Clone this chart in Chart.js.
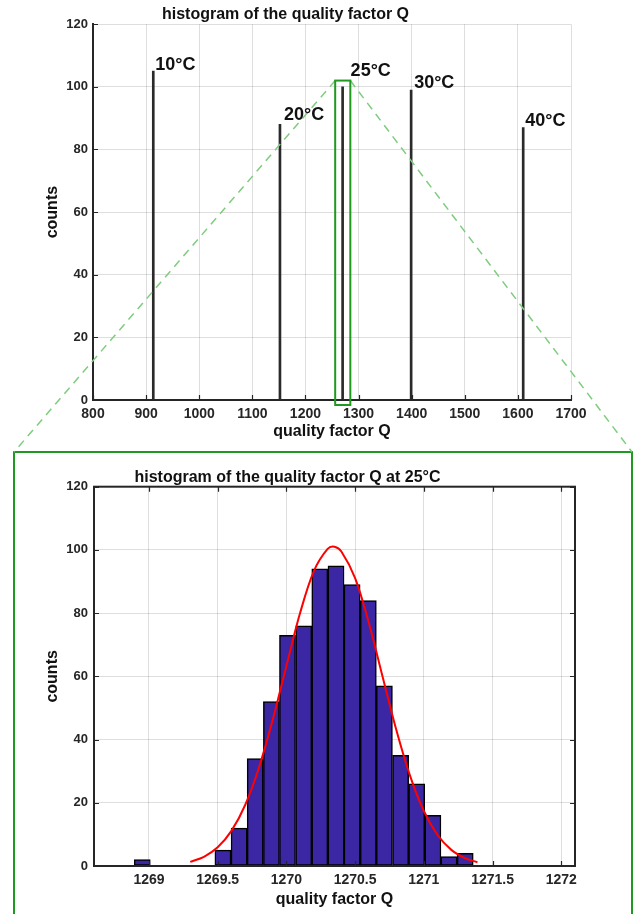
<!DOCTYPE html>
<html>
<head>
<meta charset="utf-8">
<script src="https://cdn.jsdelivr.net/npm/chart.js@4.4.0/dist/chart.umd.min.js"></script>
<style>
  html, body { margin: 0; padding: 0; background: #fff; }
  #page { position: relative; width: 633px; height: 914px; overflow: hidden; }
  #zoomFrame { position: absolute; left: 13px; top: 451px; width: 616px; height: 480px; border: 2px solid #1f991f; }
  #overview { position: absolute; left: 0; top: 0; }
  #detail { position: absolute; left: 0; top: 453px; }
</style>
</head>
<body>
<div id="page">
  <div id="zoomFrame"></div>
  <canvas id="overview" width="633" height="454"></canvas>
  <canvas id="detail" width="633" height="461"></canvas>
</div>
<script>
// overview: one narrow histogram per temperature
const tempLabels = ['10°C', '20°C', '25°C', '30°C', '40°C'];
const tempQ = [913.5, 1152, 1270, 1399, 1610];
const tempCounts = [105, 88, 100, 99, 87];
const overviewTicks = [800, 900, 1000, 1100, 1200, 1300, 1400, 1500, 1600, 1700];

// Q range / counts range zoomed in below (25°C)
const zoomQ = [1256, 1284.5];
const zoomCounts = [-1.6, 102];

// 25°C histogram, bin centres and counts
const binQ = [1268.951, 1269.068, 1269.186, 1269.303, 1269.421, 1269.538, 1269.656, 1269.773,
              1269.891, 1270.008, 1270.126, 1270.243, 1270.361, 1270.478, 1270.596, 1270.713,
              1270.831, 1270.948, 1271.066, 1271.183, 1271.301];
const binCounts = [2, 0, 0, 0, 0, 5, 12, 34, 52, 73, 76, 94, 95, 89, 84, 57, 35, 26, 16, 3, 4];
const detailTicks = [1269, 1269.5, 1270, 1270.5, 1271, 1271.5, 1272];
const countTicks = [0, 20, 40, 60, 80, 100, 120];

// normal fit drawn over the histogram
const fitQ = [1269.30, 1269.40, 1269.50, 1269.60, 1269.70, 1269.80, 1269.90, 1270.00, 1270.10,
              1270.20, 1270.30, 1270.35, 1270.40, 1270.50, 1270.60, 1270.70, 1270.80, 1270.90,
              1271.00, 1271.10, 1271.20, 1271.30, 1271.39];
const fitCounts = [1.3, 2.9, 5.9, 11.1, 19.3, 31.1, 46.2, 63.3, 80.1, 93.3, 100.3, 101, 99.5, 91.1,
                   76.9, 59.9, 43.0, 28.5, 17.4, 9.8, 5.1, 2.5, 1.2];

Chart.defaults.font.family = '"Liberation Sans", Arial, Helvetica, sans-serif';
Chart.defaults.animation = false;

const axisInk = '#262626';
const gridInk = 'rgba(0,0,0,0.13)';
const fmtQ = v => String(Math.round(v * 10) / 10);
const fixedTicks = list => s => { s.ticks = list.map(v => ({ value: v })); };

// ticks drawn inside the axes, MATLAB style
function innerTicks(chart, boxed) {
  const { ctx, chartArea: a, scales: { x, y } } = chart;
  ctx.save();
  ctx.strokeStyle = axisInk;
  ctx.lineWidth = 1.2;
  ctx.beginPath();
  x.ticks.forEach(t => {
    const px = Math.round(x.getPixelForValue(t.value)) + 0.5;
    ctx.moveTo(px, a.bottom); ctx.lineTo(px, a.bottom - 5);
    if (boxed) { ctx.moveTo(px, a.top); ctx.lineTo(px, a.top + 5); }
  });
  y.ticks.forEach(t => {
    const py = Math.round(y.getPixelForValue(t.value)) + 0.5;
    ctx.moveTo(a.left, py); ctx.lineTo(a.left + 5, py);
    if (boxed) { ctx.moveTo(a.right, py); ctx.lineTo(a.right - 5, py); }
  });
  ctx.stroke();
  if (boxed) {
    ctx.lineWidth = 2;
    ctx.strokeRect(a.left, a.top, a.right - a.left, a.bottom - a.top);
  }
  ctx.restore();
}

// green zoom box, dashed guides to the frame and the temperature labels
const overviewDeco = {
  id: 'overviewDeco',
  afterDraw(chart) {
    const { ctx, scales: { x, y } } = chart;
    innerTicks(chart, false);

    const x0 = x.getPixelForValue(zoomQ[0]), x1 = x.getPixelForValue(zoomQ[1]);
    const y0 = y.getPixelForValue(zoomCounts[1]), y1 = y.getPixelForValue(zoomCounts[0]);
    const frame = document.getElementById('zoomFrame');
    const fy = frame.offsetTop + 1;
    const fl = frame.offsetLeft + 1, fr = frame.offsetLeft + frame.offsetWidth - 1;

    ctx.save();
    ctx.strokeStyle = '#7fcc7f';
    ctx.lineWidth = 1.5;
    ctx.setLineDash([8, 6]);
    ctx.beginPath();
    ctx.moveTo(x0, y0); ctx.lineTo(fl, fy);
    ctx.moveTo(x1, y0); ctx.lineTo(fr, fy);
    ctx.stroke();
    ctx.setLineDash([]);
    ctx.strokeStyle = '#1f991f';
    ctx.lineWidth = 2;
    ctx.strokeRect(x0, y0, x1 - x0, y1 - y0);

    const nudge = [[2, -1], [4, -4], [8, -11], [3, -2], [2, -2]];
    ctx.fillStyle = '#111';
    ctx.font = 'bold 18px "Liberation Sans", Arial, sans-serif';
    ctx.textBaseline = 'alphabetic';
    tempLabels.forEach((t, i) => {
      const px = x.getPixelForValue(tempQ[i]) + nudge[i][0];
      const py = y.getPixelForValue(tempCounts[i]) + nudge[i][1];
      ctx.fillText(t, px, py);
    });
    ctx.restore();
  }
};

const detailDeco = {
  id: 'detailDeco',
  afterDraw(chart) { innerTicks(chart, true); }
};

new Chart(document.getElementById('overview'), {
  type: 'bar',
  data: {
    datasets: [{
      data: tempQ.map((q, i) => ({ x: q, y: tempCounts[i] })),
      backgroundColor: '#2a2a2a',
      borderWidth: 0,
      barThickness: 2
    }]
  },
  options: {
    responsive: false,
    layout: { padding: { left: 0, right: 62, top: 0, bottom: 0 } },
    plugins: {
      legend: { display: false },
      tooltip: { enabled: false },
      title: {
        display: true,
        text: 'histogram of the quality factor Q',
        color: '#111',
        font: { size: 16, weight: 'bold' },
        padding: { top: 5, bottom: 0 }
      }
    },
    scales: {
      x: {
        type: 'linear', min: 800, max: 1700, offset: false,
        afterFit: s => { s.height = 54; },
        afterBuildTicks: fixedTicks(overviewTicks),
        ticks: { autoSkip: false, maxRotation: 0, padding: 6, color: axisInk,
                 font: { size: 14, weight: 'bold' }, callback: fmtQ },
        grid: { color: gridInk, drawTicks: false, offset: false },
        border: { color: axisInk, width: 2 },
        title: { display: true, text: 'quality factor Q', color: '#111',
                 font: { size: 16, weight: 'bold' }, padding: { top: 0, bottom: 13 } }
      },
      y: {
        min: 0, max: 120,
        afterFit: s => { s.width = 93; },
        afterBuildTicks: fixedTicks(countTicks),
        ticks: { padding: 5, color: axisInk, font: { size: 13, weight: 'bold' } },
        grid: { color: gridInk, drawTicks: false },
        border: { color: axisInk, width: 2 },
        title: { display: true, text: 'counts', color: '#111',
                 font: { size: 16, weight: 'bold' }, padding: { top: 43, bottom: 0 } }
      }
    }
  },
  plugins: [overviewDeco]
});

new Chart(document.getElementById('detail'), {
  type: 'bar',
  data: {
    datasets: [{
      type: 'line',
      data: fitQ.map((q, i) => ({ x: q, y: fitCounts[i] })),
      borderColor: '#ff0000',
      borderWidth: 2,
      pointRadius: 0,
      tension: 0.35,
      fill: false,
      order: 0
    }, {
      data: binQ.map((q, i) => ({ x: q, y: binCounts[i] })),
      backgroundColor: '#3b27a3',
      borderColor: '#000',
      borderWidth: c => (c.raw && c.raw.y > 0 ? 1.5 : 0),
      borderSkipped: false,
      barPercentage: 1,
      categoryPercentage: 1,
      order: 1
    }]
  },
  options: {
    responsive: false,
    layout: { padding: { left: 0, right: 58, top: 0, bottom: 0 } },
    plugins: {
      legend: { display: false },
      tooltip: { enabled: false },
      title: {
        display: true,
        text: 'histogram of the quality factor Q at 25°C',
        color: '#111',
        font: { size: 16, weight: 'bold' },
        padding: { top: 14.5, bottom: 0 }
      }
    },
    scales: {
      x: {
        type: 'linear', min: 1268.6, max: 1272.1, offset: false,
        afterFit: s => { s.height = 48; },
        afterBuildTicks: fixedTicks(detailTicks),
        ticks: { autoSkip: false, maxRotation: 0, padding: 6,
                 color: axisInk, font: { size: 14, weight: 'bold' }, callback: fmtQ },
        grid: { color: gridInk, drawTicks: false, offset: false },
        border: { color: axisInk, width: 2 },
        title: { display: true, text: 'quality factor Q', color: '#111',
                 font: { size: 16, weight: 'bold' }, padding: { top: 0, bottom: 5 } }
      },
      y: {
        min: 0, max: 120,
        afterFit: s => { s.width = 94; },
        afterBuildTicks: fixedTicks(countTicks),
        ticks: { padding: 6, color: axisInk, font: { size: 13, weight: 'bold' } },
        grid: { color: gridInk, drawTicks: false },
        border: { color: axisInk, width: 2 },
        title: { display: true, text: 'counts', color: '#111',
                 font: { size: 16, weight: 'bold' }, padding: { top: 43, bottom: 0 } }
      }
    }
  },
  plugins: [detailDeco]
});
</script>
</body>
</html>
